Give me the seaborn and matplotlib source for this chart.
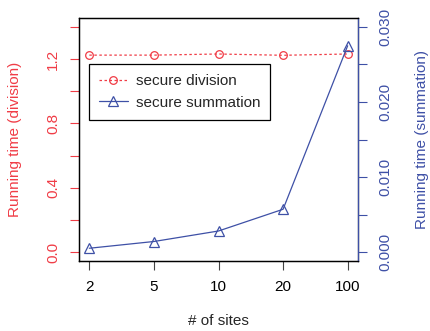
import numpy as np
import pandas as pd
import matplotlib
matplotlib.use('Agg')
import matplotlib.pyplot as plt
import seaborn as sns

# data
sites = ['2', '5', '10', '20', '100']
division_time = [1.225, 1.225, 1.232, 1.224, 1.232]
summation_time = [0.0005, 0.0014, 0.0028, 0.0057, 0.0275]

red = '#F03C46'
blue = '#3E50A6'

sns.set_style('ticks')
plt.rcParams['font.family'] = ['Liberation Sans', 'DejaVu Sans']
plt.rcParams['font.size'] = 11

df = pd.DataFrame({'pos': np.arange(1, len(sites) + 1),
                   'division': division_time,
                   'summation': summation_time})

fig = plt.figure(figsize=(4.3, 3.31), dpi=100)
ax = fig.add_axes([79 / 430, 70 / 331, 279 / 430, 243 / 331])
ax2 = ax.twinx()

sns.lineplot(data=df, x='pos', y='division', ax=ax, color=red, linestyle=(0, (2, 2)),
             linewidth=0.9, marker='o', markersize=5.5, markerfacecolor='none',
             markeredgecolor=red, markeredgewidth=0.9, label='secure division', legend=False)
sns.lineplot(data=df, x='pos', y='summation', ax=ax2, color=blue, linewidth=0.9,
             marker='^', markersize=7, markerfacecolor='none', markeredgecolor=blue,
             markeredgewidth=0.9, label='secure summation', legend=False)

ax.set_xlim(0.84, 5.16)
ax.set_ylim(-0.056, 1.456)
ax2.set_ylim(-0.0012, 0.0312)

ax.set_xticks(df['pos'])
ax.set_xticklabels(sites)
left_ticks = np.arange(0, 1.41, 0.2)
ax.set_yticks(left_ticks)
ax.set_yticklabels([f'{v:.1f}' if i % 2 == 0 else '' for i, v in enumerate(left_ticks)],
                   rotation=90, va='center')
right_ticks = np.arange(0, 0.0301, 0.005)
ax2.set_yticks(right_ticks)
ax2.set_yticklabels([f'{v:.3f}' if i % 2 == 0 else '' for i, v in enumerate(right_ticks)],
                    rotation=90, va='center')

ax.tick_params(axis='x', direction='out', length=6.5, width=0.8, pad=7, labelsize=11,
               colors='#444444', labelcolor='black')
ax.tick_params(axis='y', direction='out', length=6.5, width=0.8, pad=7, labelsize=11, colors=red)
ax2.tick_params(axis='y', direction='out', length=6.5, width=0.8, pad=8, labelsize=11, colors=blue)

for a in (ax, ax2):
    for s in a.spines.values():
        s.set_linewidth(0.9)
        s.set_color('black')
        s.set_visible(True)
ax2.spines['right'].set_color(blue)

ax.set_xlabel('# of sites', fontsize=11)
ax.set_ylabel('Running time (division)', color=red, fontsize=11)
ax2.set_ylabel('Running time (summation)', color=blue, fontsize=11)
ax.xaxis.set_label_coords(0.5, -0.22)
ax.yaxis.set_label_coords(-0.204, 0.5)
ax2.yaxis.set_label_coords(1.205, 0.5)

h1, l1 = ax.get_legend_handles_labels()
h2, l2 = ax2.get_legend_handles_labels()
leg = ax2.legend(h1 + h2, l1 + l2, loc='upper left', bbox_to_anchor=(0.036, 0.81),
                 frameon=True, fancybox=False, edgecolor='black', framealpha=1,
                 fontsize=11, handlelength=1.9, borderpad=0.65, labelspacing=0.5,
                 handletextpad=0.5, borderaxespad=0)
leg.get_frame().set_linewidth(0.9)

fig.savefig('out.png', dpi=100)
